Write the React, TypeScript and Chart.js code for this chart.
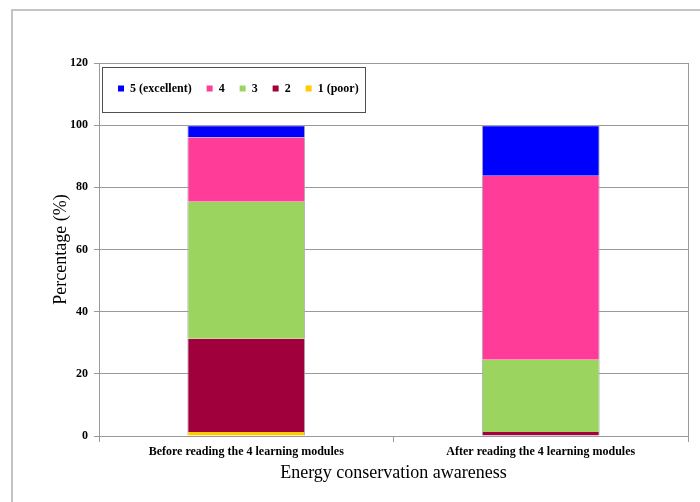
import React, { useEffect, useRef } from "react";
import { Chart, registerables } from "chart.js";

Chart.register(...registerables);

const categories = ["Before reading the 4 learning modules", "After reading the 4 learning modules"];
const poor = [1.3, 0];
const two = [30.0, 1.3];
const three = [44.1, 23.2];
const four = [20.6, 59.2];
const excellent = [4.0, 16.3];
const seriesLabels = ["1 (poor)", "2", "3", "4", "5 (excellent)"];
const seriesColors = ["#FFCC00", "#A0003C", "#9BD55F", "#FF3C98", "#0000FF"];
const yTicksMax = 120;
const yTicksStep = 20;
const yTitle = "Percentage (%)";
const xTitle = "Energy conservation awareness";

const SERIF = '"Liberation Serif", "Times New Roman", serif';
const GRID = "#999999";

export default function App() {
  const ref = useRef<HTMLCanvasElement | null>(null);

  useEffect(() => {
    if (!ref.current) return;
    const values = [poor, two, three, four, excellent];
    const framePlugin = {
      id: "framePlugin",
      beforeDraw(chart: any) {
        const ctx = chart.ctx;
        ctx.save();
        ctx.fillStyle = "#ffffff";
        ctx.fillRect(0, 0, chart.width, chart.height);
        ctx.strokeStyle = "#c4c4c4";
        ctx.lineWidth = 2;
        ctx.strokeRect(12, 10, chart.width + 50, chart.height + 50);
        ctx.restore();
      },
      afterLayout(chart: any) {
        const lg = chart.legend;
        const ca = chart.chartArea;
        if (lg) {
          const dx = ca.left + 4 - lg.left;
          const dy = ca.top + 4.5 - lg.top;
          lg.left += dx;
          lg.right += dx;
          lg.top += dy;
          lg.bottom += dy;
        }
      },
      afterDraw(chart: any) {
        const ctx = chart.ctx;
        const ca = chart.chartArea;
        ctx.save();
        ctx.strokeStyle = GRID;
        ctx.lineWidth = 1;
        ctx.beginPath();
        ctx.moveTo(Math.round(ca.right) + 0.5, ca.top);
        ctx.lineTo(Math.round(ca.right) + 0.5, ca.bottom);
        ctx.stroke();
        ctx.strokeStyle = "#505050";
        ctx.strokeRect(Math.round(ca.left) + 3.5, Math.round(ca.top) + 4.5, 263, 45);
        ctx.restore();
      },
    };

    const chart = new Chart(ref.current, {
      type: "bar",
      data: {
        labels: categories,
        datasets: values.map((v, i) => ({
          label: seriesLabels[i],
          data: v,
          backgroundColor: seriesColors[i],
          borderColor: "#a8a8b8",
          borderWidth: i === values.length - 1 ? { left: 1, right: 1, top: 1, bottom: 0 } : { left: 1, right: 1, top: 0, bottom: 0 },
          borderSkipped: false,
          barPercentage: 0.4,
          categoryPercentage: 1,
        })),
      },
      options: {
        animation: false,
        responsive: true,
        maintainAspectRatio: false,
        layout: { padding: { left: 0, top: 26, right: 12, bottom: 0 } },
        plugins: {
          tooltip: { enabled: false },
          legend: {
            position: "top",
            align: "start",
            reverse: true,
            labels: {
              boxWidth: 6,
              boxHeight: 6,
              padding: 15,
              color: "#000",
              font: { family: SERIF, size: 12, weight: "bold" },
              generateLabels: (c: any) =>
                (Chart.defaults.plugins.legend.labels.generateLabels as any)(c).map((l: any) => ({
                  ...l,
                  lineWidth: 0,
                  strokeStyle: l.fillStyle,
                })),
            },
          },
        },
        scales: {
          x: {
            stacked: true,
            afterFit: (s: any) => {
              s.height = 66;
            },
            grid: {
              offset: true,
              drawOnChartArea: false,
              drawTicks: true,
              tickLength: 6,
              color: GRID,
            },
            border: { color: GRID },
            ticks: {
              color: "#000",
              padding: 3,
              maxRotation: 0,
              font: { family: SERIF, size: 12, weight: "bold" },
            },
            title: {
              display: true,
              text: xTitle,
              color: "#000",
              font: { family: SERIF, size: 18, weight: "normal" },
              padding: { top: 0, bottom: 18 },
            },
          },
          y: {
            stacked: true,
            min: 0,
            max: yTicksMax,
            afterFit: (s: any) => {
              s.width = 99;
            },
            grid: { color: GRID, tickLength: 5, tickColor: GRID },
            border: { color: GRID },
            ticks: {
              stepSize: yTicksStep,
              color: "#000",
              padding: 6,
              font: { family: SERIF, size: 12, weight: "bold" },
            },
            title: {
              display: true,
              text: yTitle,
              color: "#000",
              font: { family: SERIF, size: 18, weight: "normal" },
              padding: { top: 50, bottom: 0 },
            },
          },
        },
      },
      plugins: [framePlugin],
    } as any);
    return () => chart.destroy();
  }, []);

  return (
    <div style={{ position: "fixed", left: 0, top: 0, width: 700, height: 502 }}>
      <canvas ref={ref} />
    </div>
  );
}
